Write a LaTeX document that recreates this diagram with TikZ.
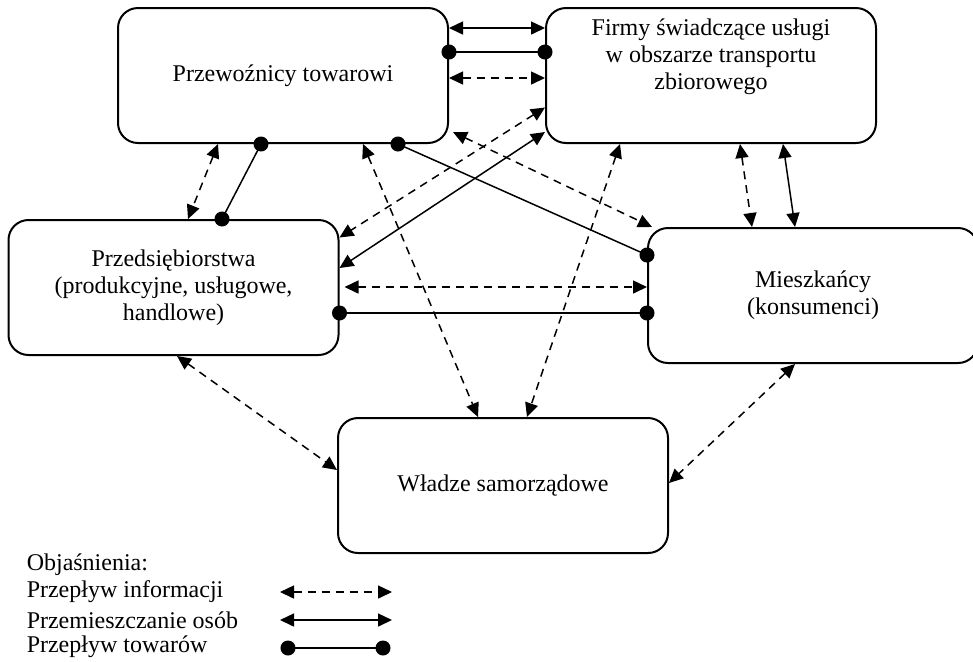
\documentclass[tikz,border=0pt]{standalone}
\usepackage{fontspec}
\setmainfont{Liberation Serif}
\usetikzlibrary{positioning,arrows.meta}
\tikzset {
podmiot/.style={shape=rectangle,draw,line width=1pt,rounded corners=10pt,minimum width=165pt,minimum height=67.5pt,align=center,font=\fontsize{12}{13.5}\selectfont},
informacja/.style={<->,dash pattern=on 4pt off 3pt},
osoby/.style={<->},
towary/.style={{Circle[length=7.5pt]}-{Circle[length=7.5pt]},shorten <=-3.75pt,shorten >=-3.75pt},
opis/.style={anchor=west,inner sep=0pt,font=\fontsize{12}{13.5}\selectfont}
}
\begin{document}
\begin{tikzpicture}
[x=0.5pt,y=-0.5pt,>={Triangle[length=7pt,width=6.5pt]},line width=0.75pt]
\useasboundingbox (0,0) rectangle (973,661);
\node[podmiot] (przewoznicy) at (283,75.5) {Przewoźnicy towarowi};
\node[podmiot] (firmy) at (711,75.5) {};
\node[align=center,font=\fontsize{12}{13.5}\selectfont] (firmy opis) at ([yshift=9.5pt]firmy.center) {Firmy świadczące usługi\\w obszarze transportu\\zbiorowego};
\node[podmiot] (przedsiebiorstwa) at (173.5,287.5) {Przedsiębiorstwa\\(produkcyjne, usługowe,\\handlowe)};
\node[podmiot] (mieszkancy) at (813,295.5) {Mieszkańcy\\(konsumenci)};
\node[podmiot] (wladze) at (503,485.5) {Władze samorządowe};

% przewoznicy - firmy
\draw[osoby] ([yshift=23.75pt]przewoznicy.east) -- ([yshift=23.75pt]firmy.west);
\draw[towary] ([yshift=11.75pt]przewoznicy.east) -- ([yshift=11.75pt]firmy.west);
\draw[informacja] ([yshift=-1.25pt]przewoznicy.east) -- ([yshift=-1.25pt]firmy.west);
% przewoznicy - przedsiebiorstwa
\draw[informacja] ([xshift=-32.5pt]przewoznicy.south) -- ([xshift=7.25pt]przedsiebiorstwa.north);
\draw[towary] ([xshift=-11pt]przewoznicy.south) -- ([xshift=24.25pt]przedsiebiorstwa.north);
% przewoznicy - wladze, mieszkancy
\draw[informacja] ([xshift=40pt]przewoznicy.south) -- ([xshift=-12.5pt]wladze.north);
\draw[towary] ([xshift=57.5pt]przewoznicy.south) -- ([yshift=20.25pt]mieszkancy.west);
\draw[informacja] ([xshift=2pt,yshift=6pt]przewoznicy.south east) -- ([xshift=2.5pt]mieszkancy.north west);
% firmy - przedsiebiorstwa
\draw[informacja] ([yshift=-16pt]firmy.west) -- ([yshift=25pt]przedsiebiorstwa.east);
\draw[osoby] ([yshift=6pt]firmy.south west) -- ([yshift=9.75pt]przedsiebiorstwa.east);
% firmy - wladze, mieszkancy
\draw[informacja] ([xshift=-45.5pt]firmy.south) -- ([xshift=12pt]wladze.north);
\draw[informacja] ([xshift=14.5pt]firmy.south) -- ([xshift=-30.5pt]mieszkancy.north);
\draw[osoby] ([xshift=36pt]firmy.south) -- ([xshift=-9pt]mieszkancy.north);
% przedsiebiorstwa - mieszkancy
\draw[informacja] ([xshift=2.5pt,yshift=0.25pt]przedsiebiorstwa.east) -- ([yshift=4.25pt]mieszkancy.west);
\draw[towary] ([yshift=-12.75pt]przedsiebiorstwa.east) -- ([yshift=-8.75pt]mieszkancy.west);
% wladze
\draw[informacja] ([xshift=1.75pt]przedsiebiorstwa.south) -- ([yshift=7.75pt]wladze.west);
\draw[informacja] ([xshift=-9pt]mieszkancy.south) -- ([yshift=1.25pt]wladze.east);

% legenda
\node[opis] (objasnienia) at (26,565) {Objaśnienia:};
\node[opis] (informacja opis) at (26,592) {Przepływ informacji};
\node[opis] (osoby opis) at (26,620) {Przemieszczanie osób};
\node[opis] (towary opis) at (26,647) {Przepływ towarów};
\coordinate (informacja od) at (280,592);
\coordinate (informacja do) at (392,592);
\coordinate (osoby od) at (280,620);
\coordinate (osoby do) at (392,620);
\coordinate (towary od) at (288,648);
\coordinate (towary do) at (383,648);
\draw[informacja] (informacja od) -- (informacja do);
\draw[osoby] (osoby od) -- (osoby do);
\draw[towary] (towary od) -- (towary do);
\end{tikzpicture}
\end{document}
